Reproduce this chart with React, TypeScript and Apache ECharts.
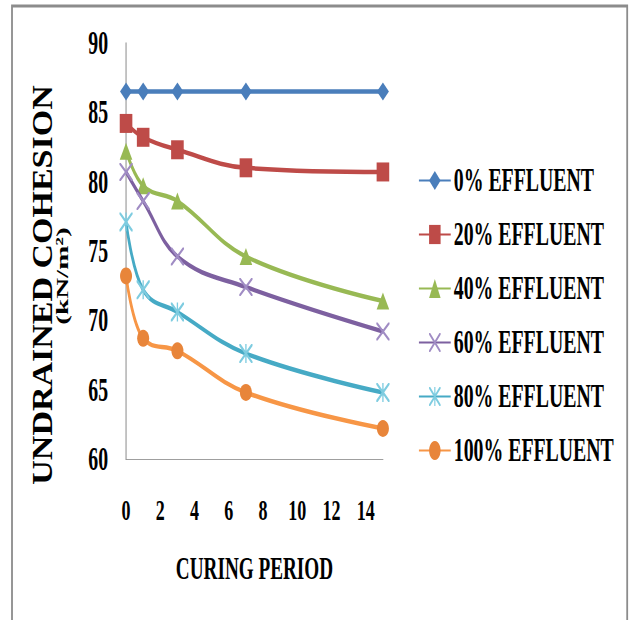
import React, { useEffect, useRef } from "react";
import * as echarts from "echarts";

// ---------------- data ----------------
const curingDays = [0, 1, 3, 7, 15];
const xTicks = [0, 2, 4, 6, 8, 10, 12, 14];
const xMax = 15;
const yTicks = [60, 65, 70, 75, 80, 85, 90];
const seriesNames = [
  "0% EFFLUENT",
  "20% EFFLUENT",
  "40% EFFLUENT",
  "60% EFFLUENT",
  "80% EFFLUENT",
  "100% EFFLUENT",
];
const effluent0 = [86.5, 86.5, 86.5, 86.5, 86.5];
const effluent20 = [84.2, 83.2, 82.3, 81.0, 80.7];
const effluent40 = [82.2, 79.7, 78.6, 74.6, 71.4];
const effluent60 = [80.7, 78.6, 74.6, 72.4, 69.2];
const effluent80 = [77.1, 72.2, 70.6, 67.6, 64.8];
const effluent100 = [73.2, 68.7, 67.8, 64.8, 62.2];
const yAxisTitle = "UNDRAINED COHESION";
const yAxisUnit = "(kN/m²)";
const xAxisTitle = "CURING PERIOD";

// ---------------- styles ----------------
const W = 1048;
const H = 620;
const S = 629 / W;
const FONT = "'Liberation Serif', 'Times New Roman', serif";
const lineColors = ["#4A7EBB", "#BE4B48", "#98B954", "#7D60A0", "#46AAC5", "#F79646"];
const markerColors = ["#4A7EBB", "#BE4B48", "#98B954", "#A08CC4", "#7ECCE0", "#E8853A"];
const X_PATH =
  "path://M0,0 L2,0 L20,18 L20,20 L18,20 L0,2 Z M20,0 L20,2 L2,20 L0,20 L0,18 L18,0 Z";
const STAR_PATH =
  "path://M0,0 L2,0 L20,18 L20,20 L18,20 L0,2 Z M20,0 L20,2 L2,20 L0,20 L0,18 L18,0 Z M9,0 L11,0 L11,20 L9,20 Z";
const symbols = ["diamond", "rect", "triangle", X_PATH, STAR_PATH, "circle"];
const symbolSizes = [
  [20, 18],
  [21, 19],
  [21, 17],
  [22, 18],
  [22, 19],
  [20, 17],
];

export default function App() {
  const ref = useRef<HTMLDivElement>(null);

  useEffect(() => {
    if (!ref.current) return;
    const chart = echarts.init(ref.current, undefined, { renderer: "svg" });
    const allValues = [effluent0, effluent20, effluent40, effluent60, effluent80, effluent100];

    const series = allValues.map((vals, si) => ({
      name: seriesNames[si],
      type: "line",
      smooth: 0.4,
      symbol: symbols[si],
      symbolSize: symbolSizes[si],
      data: curingDays.map((d, i) => [d, vals[i]]),
      lineStyle: { color: lineColors[si], width: 4.5 },
      itemStyle: { color: markerColors[si] },
      z: 2 + si,
    }));

    const option: any = {
      animation: false,
      grid: { left: 210, right: W - 638, top: 43, bottom: H - 459, containLabel: false },
      xAxis: {
        type: "value",
        min: 0,
        max: xMax,
        interval: xTicks[1] - xTicks[0],
        axisLine: { show: true, lineStyle: { color: "#868686", width: 1 } },
        axisTick: { show: false },
        splitLine: { show: false },
        axisLabel: {
          fontFamily: FONT,
          fontWeight: "bold",
          fontSize: 30,
          color: "#000",
          margin: 36,
          showMaxLabel: false,
          formatter: (v: number) => (xTicks.includes(v) ? String(v) : ""),
        },
        name: xAxisTitle,
        nameLocation: "middle",
        nameGap: 93,
        nameTextStyle: { fontFamily: FONT, fontWeight: "bold", fontSize: 32, color: "#000" },
      },
      yAxis: {
        type: "value",
        min: yTicks[0],
        max: yTicks[yTicks.length - 1],
        interval: yTicks[1] - yTicks[0],
        axisLine: { show: true, lineStyle: { color: "#868686", width: 1.6 } },
        axisTick: { show: false },
        splitLine: { show: false },
        axisLabel: {
          fontFamily: FONT,
          fontWeight: "bold",
          fontSize: 33,
          color: "#000",
          margin: 30,
        },
      },
      legend: {
        orient: "vertical",
        left: 692,
        top: 159,
        itemWidth: 53,
        itemHeight: 24,
        itemGap: 21,
        data: seriesNames,
        textStyle: {
          fontFamily: FONT,
          fontWeight: "bold",
          fontSize: 33,
          lineHeight: 33,
          color: "#000",
        },
      },
      graphic: [
        {
          type: "rect",
          silent: true,
          shape: { x: 20, y: 6, width: 1025, height: 700 },
          style: { fill: "none", stroke: "#8c8c8c", lineWidth: 3 },
        },
        {
          type: "text",
          silent: true,
          x: 71,
          y: 285,
          rotation: Math.PI / 2,
          scaleY: 1.45,
          style: {
            text: yAxisTitle,
            font: "bold 34px " + FONT,
            fill: "#000",
            align: "center",
            verticalAlign: "middle",
          },
        },
        {
          type: "text",
          silent: true,
          x: 103,
          y: 276,
          rotation: Math.PI / 2,
          style: {
            text: yAxisUnit,
            font: "bold 29px " + FONT,
            fill: "#000",
            align: "center",
            verticalAlign: "middle",
          },
        },
      ],
      series,
    };
    chart.setOption(option);
    return () => chart.dispose();
  }, []);

  return (
    <div
      style={{
        position: "fixed",
        left: 0,
        top: 0,
        width: W,
        height: H,
        transform: `scaleX(${S})`,
        transformOrigin: "0 0",
        background: "#fff",
      }}
    >
      <div ref={ref} style={{ width: W, height: H }} />
    </div>
  );
}
